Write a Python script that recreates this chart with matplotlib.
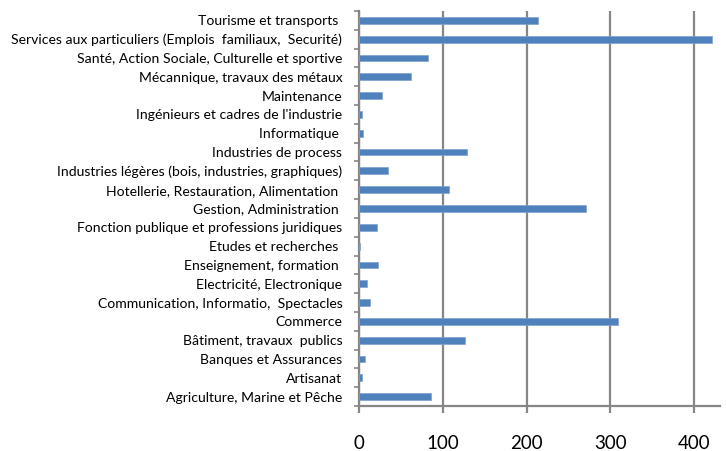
import matplotlib
matplotlib.use("Agg")
import matplotlib.pyplot as plt
import numpy as np

categories = [
    "Agriculture, Marine et Pêche",
    "Artisanat",
    "Banques et Assurances",
    "Bâtiment, travaux  publics",
    "Commerce",
    "Communication, Informatio,  Spectacles",
    "Electricité, Electronique",
    "Enseignement, formation ",
    "Etudes et recherches ",
    "Fonction publique et professions juridiques",
    "Gestion, Administration ",
    "Hotellerie, Restauration, Alimentation ",
    "Industries légères (bois, industries, graphiques)",
    "Industries de process",
    "Informatique ",
    "Ingénieurs et cadres de l'industrie",
    "Maintenance",
    "Mécannique, travaux des métaux",
    "Santé, Action Sociale, Culturelle et sportive",
    "Services aux particuliers (Emplois  familiaux,  Securité)",
    "Tourisme et transports ",
]
values = [86, 3, 7, 127, 309, 13, 9, 23, 1, 21, 271, 108, 35, 129, 5, 3, 27, 62, 82, 421, 214]
xticks = [0, 100, 200, 300, 400]

plt.rcParams['font.family'] = ['Lato', 'DejaVu Sans']

fig = plt.figure(figsize=(7.26, 4.51), dpi=100)
ax = fig.add_axes([359/726, 45/451, (720-359)/726, (406-11)/451])

grid_c = "#868686"
y = np.arange(len(categories))
ax.barh(y, values, height=0.36, color="#4F81BD", edgecolor="#7FA3D1", linewidth=0.5, zorder=3)

ax.set_xlim(0, 431)
ax.set_ylim(-0.5, len(categories) - 0.5)
ax.set_xticks(xticks)
ax.set_xticklabels([str(t) for t in xticks], fontsize=13.5, color="#000000")
ax.set_yticks(y)
ax.set_yticklabels(categories, fontsize=10.1, color="#000000")
ax.set_yticks(np.arange(len(categories) + 1) - 0.5, minor=True)

ax.xaxis.grid(True, color=grid_c, linewidth=1.6, zorder=0)
ax.tick_params(axis='x', which='major', length=5, width=1.6, color=grid_c, pad=16)
ax.tick_params(axis='y', which='major', length=0, pad=12)
ax.tick_params(axis='y', which='minor', length=3.5, width=1.2, color=grid_c)

for s in ['top', 'right']:
    ax.spines[s].set_visible(False)
for s in ['left', 'bottom']:
    ax.spines[s].set_color(grid_c)
    ax.spines[s].set_linewidth(1.6)

fig.savefig("out.png", dpi=100)
